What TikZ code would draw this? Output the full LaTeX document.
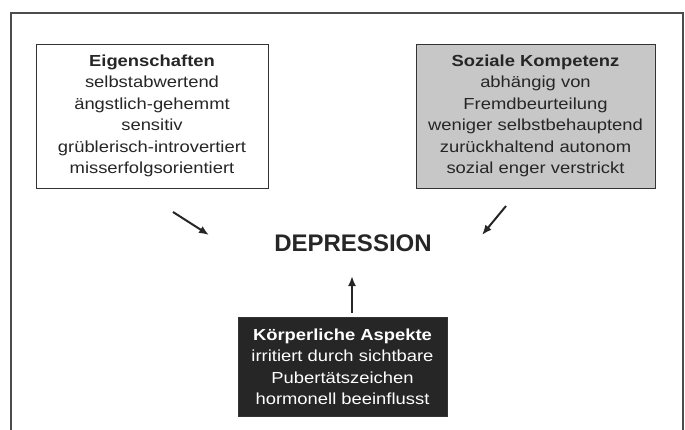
\documentclass[tikz,border=0pt]{standalone}
\usepackage{fontspec}
\setmainfont{Liberation Sans}
\newfontfamily\boxfont{Liberation Sans}[FakeStretch=1.15]
\usetikzlibrary{arrows.meta}
\tikzset{
  box/.style={draw=black!80, line width=0.8pt, align=center, inner sep=0pt,
    font=\boxfont\fontsize{16}{21.5}\selectfont},
  arr/.style={line width=2pt, black!85, -{Latex[length=10pt,width=8pt]}}
}
\begin{document}
\begin{tikzpicture}[x=1pt,y=-1pt]
\useasboundingbox (0,0) rectangle (685,430);
\draw[black!70, line width=1.5pt] (11,432) -- (11,13) -- (683,13) -- (683,432);
\node[box, fill=white, text=black!85, minimum width=232pt, minimum height=144pt] (eig) at (152,116)
  {\textbf{Eigenschaften}\\selbstabwertend\\ängstlich-gehemmt\\sensitiv\\grüblerisch-introvertiert\\misserfolgsorientiert};
\node[box, fill=black!22, text=black!85, minimum width=239pt, minimum height=144pt] (soz) at (535.5,116)
  {\textbf{Soziale Kompetenz}\\abhängig von\\Fremdbeurteilung\\weniger selbstbehauptend\\zurückhaltend autonom\\sozial enger verstrickt};
\node[box, fill=black!85, text=white, minimum width=209pt, minimum height=99pt] (koe) at (342.5,367)
  {\textbf{Körperliche Aspekte}\\irritiert durch sichtbare\\Pubertätszeichen\\hormonell beeinflusst};
\node[font=\fontsize{24}{28}\selectfont\bfseries, text=black!85] (dep) at (353,243) {DEPRESSION};
\coordinate (a1s) at (173,212); \coordinate (a1e) at (209,235);
\coordinate (a2s) at (506,206); \coordinate (a2e) at (482,235);
\coordinate (a3s) at (352,313); \coordinate (a3e) at (352,276);
\draw[arr] (a1s) -- (a1e);
\draw[arr] (a2s) -- (a2e);
\draw[arr] (a3s) -- (a3e);
\end{tikzpicture}
\end{document}
